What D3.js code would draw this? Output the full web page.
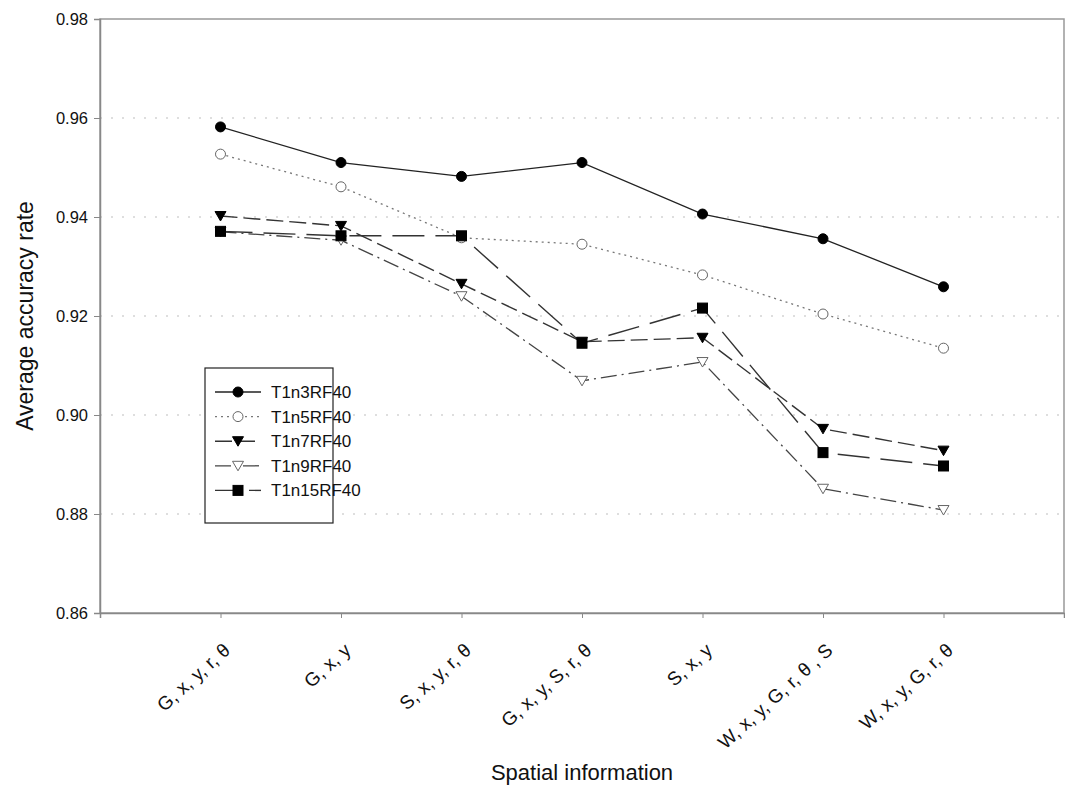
<!DOCTYPE html>
<html>
<head>
<meta charset="utf-8">
<script src="https://cdn.jsdelivr.net/npm/d3@7"></script>
<style>
body { margin: 0; background: #fff; }
svg text { font-family: "Liberation Sans", Arial, sans-serif; fill: #111; }
</style>
</head>
<body>
<div id="chart"></div>
<script>
// categories on the x axis
var categories = ['G, x, y, r, \u03b8', 'G, x, y', 'S, x, y, r, \u03b8', 'G, x, y, S, r, \u03b8',
	'S, x, y', 'W, x, y, G, r, \u03b8 , S', 'W, x, y, G, r, \u03b8'];
var yTicks = [0.86, 0.88, 0.90, 0.92, 0.94, 0.96, 0.98];

var seriesNames = ['T1n3RF40', 'T1n5RF40', 'T1n7RF40', 'T1n9RF40', 'T1n15RF40'];
var t1n3 = [0.9582, 0.9510, 0.9482, 0.9510, 0.9406, 0.9356, 0.9259];
var t1n5 = [0.9527, 0.9461, 0.9358, 0.9345, 0.9283, 0.9204, 0.9135];
var t1n7 = [0.9402, 0.9382, 0.9265, 0.9148, 0.9156, 0.8972, 0.8928];
var t1n9 = [0.9370, 0.9353, 0.9240, 0.9069, 0.9107, 0.8851, 0.8808];
var t1n15 = [0.9371, 0.9362, 0.9362, 0.9145, 0.9216, 0.8924, 0.8897];

var
CHART_WIDTH = 1065,
CHART_HEIGHT = 791,
margin = {top: 19, right: 1, bottom: 178, left: 100},
width = CHART_WIDTH - margin.left - margin.right,
height = CHART_HEIGHT - margin.top - margin.bottom;

var styles = [
	{color: '#222', dash: null, marker: 'circle', fill: '#000', width: 1.3},
	{color: '#777', dash: '2,4', marker: 'circle', fill: '#fff', width: 1.3},
	{color: '#333', dash: '17,6', marker: 'tri', fill: '#000', width: 1.4},
	{color: '#444', dash: '16,5,2,5', marker: 'tri', fill: '#fff', width: 1.3},
	{color: '#333', dash: '32,11', marker: 'square', fill: '#000', width: 1.4}
];
var allSeries = [t1n3, t1n5, t1n7, t1n9, t1n15];

var svg = d3.select('#chart')
	.append('svg')
	.attr('width', CHART_WIDTH)
	.attr('height', CHART_HEIGHT);

var g = svg.append('g')
	.attr('transform', 'translate(' + margin.left + ',' + margin.top + ')');

// x: points sit at 1..7 inside domain 0..8
var x = d3.scaleLinear().domain([0, categories.length + 1]).range([0, width]);
var y = d3.scaleLinear().domain([0.86, 0.98]).range([height, 0]);

// dotted grid
g.selectAll('.grid')
	.data(yTicks.slice(1, -1))
	.enter()
	.append('line')
	.attr('x1', 0)
	.attr('x2', width)
	.attr('y1', function(d) { return y(d); })
	.attr('y2', function(d) { return y(d); })
	.attr('stroke', '#bdbdbd')
	.attr('stroke-width', 1)
	.attr('stroke-dasharray', '2,9');

// frame
g.append('rect')
	.attr('width', width)
	.attr('height', height)
	.attr('fill', 'none')
	.attr('stroke', '#999')
	.attr('stroke-width', 1.5);

// axes
var yAxis = g.append('g')
	.call(d3.axisLeft(y).tickValues(yTicks).tickFormat(d3.format('.2f')).tickSize(6).tickPadding(6));
yAxis.select('.domain').attr('stroke', '#888').attr('stroke-width', 1.5);
yAxis.selectAll('.tick line').attr('stroke', '#888');
yAxis.selectAll('text').style('font-size', '16.5px');

var xAxis = g.append('g')
	.attr('transform', 'translate(0,' + height + ')')
	.call(d3.axisBottom(x).tickValues(d3.range(1, categories.length + 1))
		.tickFormat(function(d) { return categories[d - 1]; }).tickSize(5));
xAxis.select('.domain').attr('stroke', '#888').attr('stroke-width', 1.5);
xAxis.selectAll('.tick line').attr('stroke', '#888');
xAxis.selectAll('text')
	.style('font-size', '19px')
	.style('text-anchor', 'end')
	.attr('y', 0)
	.attr('dy', '0.35em')
	.attr('transform', 'translate(6,34) rotate(-42)');

// axis titles
svg.append('text')
	.attr('transform', 'translate(33,' + (margin.top + height / 2) + ') rotate(-90)')
	.attr('text-anchor', 'middle')
	.style('font-size', '23px')
	.text('Average accuracy rate');
svg.append('text')
	.attr('x', margin.left + x(4))
	.attr('y', 780)
	.attr('text-anchor', 'middle')
	.style('font-size', '22px')
	.text('Spatial information');

var line = d3.line()
	.x(function(d, i) { return x(i + 1); })
	.y(function(d) { return y(d); });

function drawMarker(sel, st) {
	if (st.marker == 'circle') {
		sel.append('circle').attr('r', 5);
	} else if (st.marker == 'square') {
		sel.append('rect').attr('x', -5).attr('y', -5).attr('width', 10).attr('height', 10);
	} else {
		sel.append('path').attr('d', 'M-5.5,-4.5L5.5,-4.5L0,5Z');
	}
	sel.selectAll('*')
		.attr('fill', st.fill)
		.attr('stroke', st.fill == '#fff' ? '#666' : '#000')
		.attr('stroke-width', 1);
}

allSeries.forEach(function(data, k) {
	var st = styles[k];
	g.append('path')
		.datum(data)
		.attr('fill', 'none')
		.attr('stroke', st.color)
		.attr('stroke-width', st.width)
		.attr('stroke-dasharray', st.dash)
		.attr('d', line);
});
allSeries.forEach(function(data, k) {
	var st = styles[k];
	g.selectAll('.m' + k)
		.data(data)
		.enter()
		.append('g')
		.attr('class', 'm' + k)
		.attr('transform', function(d, i) { return 'translate(' + x(i + 1) + ',' + y(d) + ')'; })
		.each(function() { drawMarker(d3.select(this), st); });
});

// legend
var legend = svg.append('g')
	.attr('transform', 'translate(205,368)');
legend.append('rect')
	.attr('width', 128)
	.attr('height', 155)
	.attr('fill', '#fff')
	.attr('stroke', '#222')
	.attr('stroke-width', 1.2);
seriesNames.forEach(function(name, k) {
	var st = styles[k];
	var item = legend.append('g')
		.attr('transform', 'translate(0,' + (24 + k * 24.6) + ')');
	item.append('line')
		.attr('x1', 10).attr('x2', 56)
		.attr('stroke', st.color)
		.attr('stroke-width', st.width)
		.attr('stroke-dasharray', st.dash == null ? null : (k == 4 ? '26,8' : st.dash));
	drawMarker(item.append('g').attr('transform', 'translate(33,0)'), st);
	item.append('text')
		.attr('x', 66)
		.attr('dy', '0.35em')
		.style('font-size', '17px')
		.text(name);
});
</script>
</body>
</html>
